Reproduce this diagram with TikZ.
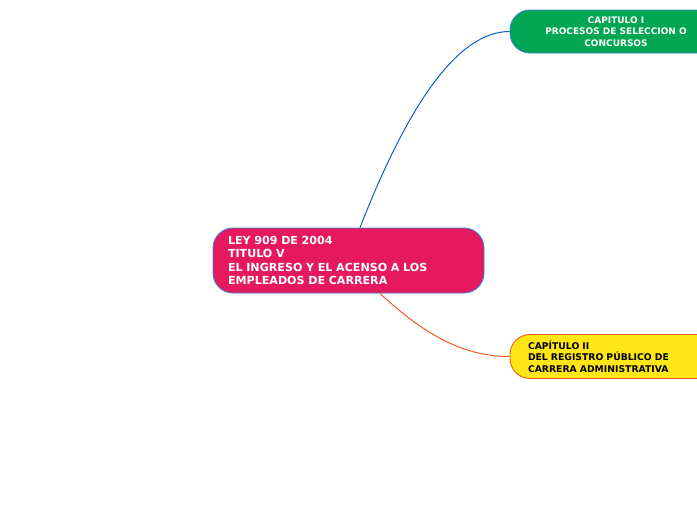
\documentclass[tikz,border=0pt]{standalone}
\usepackage{fontspec}
\setmainfont{DejaVu Sans}
\definecolor{cpink}{HTML}{E6195E}
\definecolor{cgreen}{HTML}{00A651}
\definecolor{cyellow}{HTML}{FFE617}
\definecolor{cblue}{HTML}{3F7FD6}
\definecolor{corange}{HTML}{F15A24}
\definecolor{lblue}{HTML}{0A5FCF}
\begin{document}
\begin{tikzpicture}[x=1pt,y=-1pt,
  box/.style={rectangle, rounded corners=20pt, line width=0.9pt, inner sep=0pt},
  conn/.style={line width=1pt}]
\useasboundingbox (0,0) rectangle (697,520);
\clip (0,0) rectangle (697,520);
\node[box, draw=cblue, fill=cpink, minimum width=271pt, minimum height=65pt,
  text=white, font=\bfseries\fontsize{11.1}{13.5}\selectfont, align=left,
  text width=241pt] (c) at (348.5,260.5)
  {LEY 909 DE 2004\\TITULO V\\EL INGRESO Y EL ACENSO A LOS\\EMPLEADOS DE CARRERA};
\node[box, draw=cblue, fill=cgreen, minimum width=212pt, minimum height=43pt,
  text=white, font=\bfseries\fontsize{9}{11.5}\selectfont, align=center] (g) at (616,31.5)
  {CAPITULO I\\PROCESOS DE SELECCION O\\CONCURSOS};
\node[box, draw=corange, fill=cyellow, minimum width=212pt, minimum height=44pt,
  text=black, font=\bfseries\fontsize{9.25}{11.5}\selectfont, align=left,
  text width=176pt] (y) at (616,356.5)
  {CAPÍTULO II\\DEL REGISTRO PÚBLICO DE\\CARRERA ADMINISTRATIVA};
\draw[conn, lblue] ([xshift=11.5pt]c.north) .. controls +(50,-128) and +(-50,0) .. (g.west);
\draw[conn, corange] ([xshift=31.5pt]c.south) .. controls +(40,37) and +(-50,0) .. (y.west);
\end{tikzpicture}
\end{document}
